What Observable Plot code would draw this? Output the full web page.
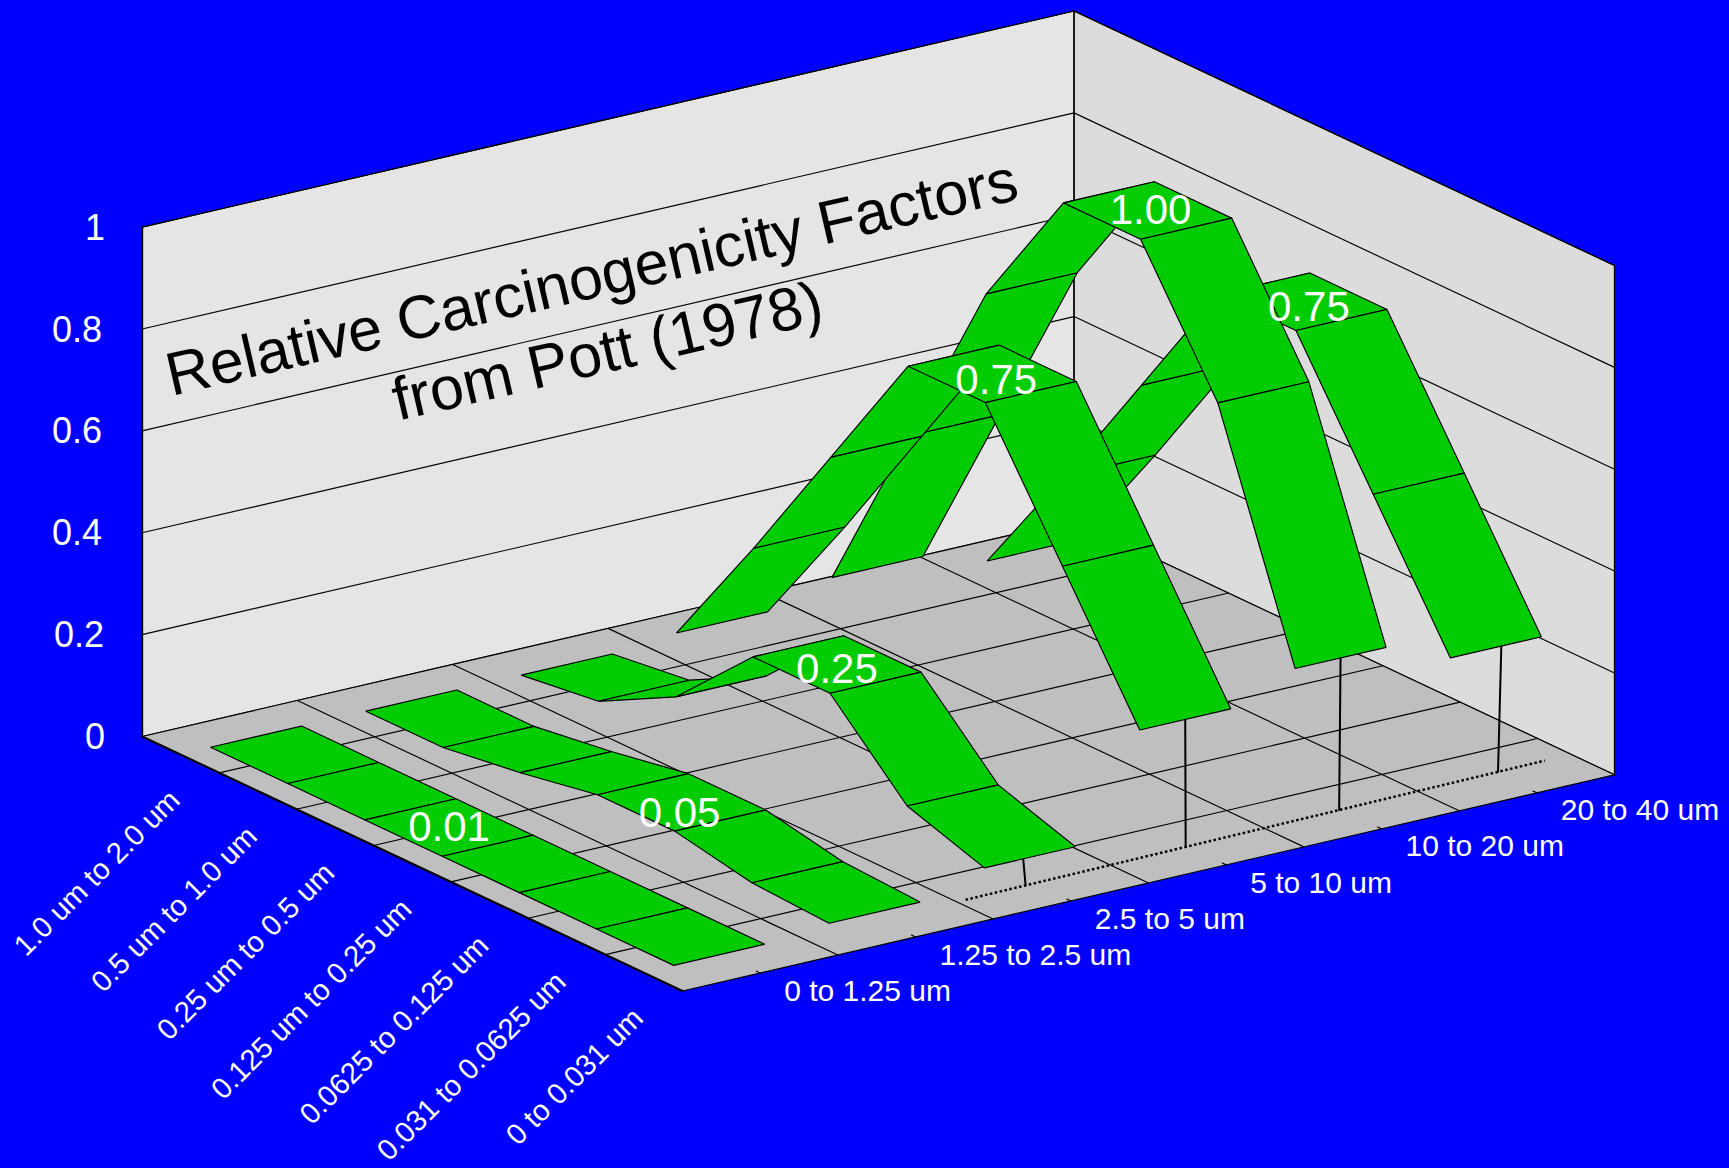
<!DOCTYPE html>
<html>
<head>
<meta charset="utf-8">
<title>Relative Carcinogenicity Factors from Pott (1978)</title>
<script src="https://cdn.jsdelivr.net/npm/d3@7"></script>
<script src="https://cdn.jsdelivr.net/npm/@observablehq/plot@0.6"></script>
<style>
  html, body { margin: 0; padding: 0; background: #0000ff; overflow: hidden; }
  svg { display: block; }
</style>
</head>
<body>
<script>
// Fibre length classes (along the front-right edge) and diameter classes (along the front-left edge).
const lengthClasses = ["0 to 1.25 um", "1.25 to 2.5 um", "2.5 to 5 um", "5 to 10 um", "10 to 20 um", "20 to 40 um"];
const diameterClasses = ["0 to 0.031 um", "0.031 to 0.0625 um", "0.0625 to 0.125 um", "0.125 um to 0.25 um", "0.25 um to 0.5 um", "0.5 um to 1.0 um", "1.0 um to 2.0 um"];

// Relative factors, one list per length class, ordered by diameter class.
const factorsLength0 = [0.01, 0.01, 0.01, 0.01, 0.01, 0.01, 0.01];
const factorsLength1 = [0.012, 0.02, 0.05, 0.05, 0.022, 0.01, 0.01];
const factorsLength2 = [0.05, 0.1, 0.25, 0.25, 0.1, 0.02, 0.01];
const factorsLength3 = [0.25, 0.5, 0.75, 0.75, 0.5, 0.25, 0.012];
const factorsLength4 = [0.3, 0.75, 1, 1, 0.75, 0.4, 0.05];
const factorsLength5 = [0.25, 0.5, 0.75, 0.75, 0.5, 0.25, 0.012];
const ribbons = [factorsLength0, factorsLength1, factorsLength2, factorsLength3, factorsLength4, factorsLength5];

const zTicks = [0, 0.2, 0.4, 0.6, 0.8, 1];
const wallLevels = [0.2, 0.4, 0.6, 0.8];

// Printed peak labels: length class, position along the diameter axis, and value.
const peakLabels = [
  {ribbon: 0, along: 3.5, value: 0.01, text: "0.01"},
  {ribbon: 1, along: 2.5, value: 0.05, text: "0.05"},
  {ribbon: 2, along: 2.5, value: 0.25, text: "0.25"},
  {ribbon: 3, along: 2.5, value: 0.75, text: "0.75"},
  {ribbon: 4, along: 2.5, value: 1, text: "1.00"},
  {ribbon: 5, along: 2.5, value: 0.75, text: "0.75"}
];

const titleLines = ["Relative Carcinogenicity Factors", "from Pott (1978)"];

const W = 1729, H = 1168;
const nA = lengthClasses.length, nB = diameterClasses.length;
const font = '"Liberation Sans", Arial, sans-serif';

// Oblique projection of the box: a runs along length classes, b along diameter classes, z upward.
const px = (a, b) => 682 + 155.33 * a - 77.2 * b;
const py = (a, b, z = 0) => 990.5 - 36.03 * a - 36.36 * b - 509.3 * z;
const pt = (a, b, z = 0) => ({x: px(a, b), y: py(a, b, z)});

// Factors of 0.01 or below rest on the floor of the box.
const lift = (v) => (v <= 0.01 ? 0 : v);

const centreA = (i) => i + 0.49;
const centreB = (j) => j + 0.51;
const halfWidth = 0.293;

// Rows for a closed polygon or polyline keyed by id.
const shape = (id, corners) => corners.map(([a, b, z]) => ({id, ...pt(a, b, z)}));

const walls = [
  ...shape("left", [[0, nB, 0], [nA, nB, 0], [nA, nB, 1], [0, nB, 1]]),
  ...shape("right", [[nA, nB, 0], [nA, 0, 0], [nA, 0, 1], [nA, nB, 1]]),
  ...shape("floor", [[0, 0, 0], [nA, 0, 0], [nA, nB, 0], [0, nB, 0]])
];
const wallFill = {left: "#e5e5e5", right: "#dcdcdc", floor: "#bfbfbf"};

// Level lines across both walls, plus the floor grid at class boundaries.
const gridRows = [
  ...wallLevels.concat([1]).flatMap((z) => shape(`z${z}`, [[0, nB, z], [nA, nB, z], [nA, 0, z]])),
  ...d3.range(1, nA).flatMap((a) => shape(`a${a}`, [[a, 0, 0], [a, nB, 0]])),
  ...d3.range(1, nB).flatMap((b) => shape(`b${b}`, [[0, b, 0], [nA, b, 0]])),
  ...shape("front-right", [[0, 0, 0], [nA, 0, 0]]),
  ...shape("back-left", [[0, nB, 0], [nA, nB, 0]]),
  ...shape("back-right", [[nA, nB, 0], [nA, 0, 0]]),
  ...shape("corner", [[nA, nB, 0], [nA, nB, 1]]),
  ...shape("right-edge", [[nA, 0, 0], [nA, 0, 1]]),
  ...lengthClasses.flatMap((_, i) => shape(`tick${i}`, [[i + 0.5, 0, 0], [i + 0.5, 0.05, 0]]))
];

// Reference line on the floor under the first diameter class, with a drop line per ribbon.
const dropB = (a) => 0.47 + (a - 2.056) * 0.0239;
const dropNudge = {2: -0.043, 5: 0.035};
const dottedRows = shape("dotted", [[2.056, dropB(2.056), 0], [5.83, dropB(5.83), 0]]);
const dropRows = d3.range(2, nA).flatMap((i) => {
  const a = centreA(i) + (dropNudge[i] ?? 0);
  return shape(`drop${i}`, [[a, dropB(a), 0], [a, centreB(0), lift(ribbons[i][0])]]);
});

// Ribbon panels, painted far to near: last length class first, and largest diameter first within it.
const panelRows = [];
for (let i = nA - 1; i >= 0; --i) {
  const values = ribbons[i];
  for (let j = values.length - 2; j >= 0; --j) {
    const a0 = centreA(i) - halfWidth, a1 = centreA(i) + halfWidth;
    const z0 = lift(values[j]), z1 = lift(values[j + 1]);
    panelRows.push(...shape(`${i}-${j}`, [
      [a0, centreB(j), z0], [a1, centreB(j), z0],
      [a1, centreB(j + 1), z1], [a0, centreB(j + 1), z1]
    ]));
  }
}

// Small offsets that seat each value label on its panel.
const labelNudgeX = [0, -2, 0, 4, 3, 6];
const labelNudgeY = [0, 11, 5, 7, 0, 6];
const labelRows = peakLabels.map((d) => {
  const p = pt(centreA(d.ribbon), centreB(d.along), lift(d.value));
  return {x: p.x + labelNudgeX[d.ribbon], y: p.y + labelNudgeY[d.ribbon], text: d.text};
});

const lengthLabels = lengthClasses.map((text, i) => ({...pt(i + 0.5, 0), text}));
const diameterLabels = diameterClasses.map((text, j) => ({...pt(0, centreB(j)), text}));
const zLabelInset = [37, 38, 40, 40, 40, 37];
const zLabels = zTicks.map((z, k) => {
  const p = pt(0, nB, z);
  return {x: p.x - zLabelInset[k], y: p.y + 1, text: String(z)};
});
const titleRows = [
  {...pt(2.895, nB, 0.6945), text: titleLines[0]},
  {...pt(2.997, nB, 0.5425), text: titleLines[1]}
];

const chart = Plot.plot({
  width: W,
  height: H,
  margin: 0,
  style: {background: "#0000ff", fontFamily: font},
  x: {domain: [0, W], range: [0, W], axis: null},
  y: {domain: [0, H], range: [0, H], axis: null},
  marks: [
    Plot.line(walls, {filter: (d) => d.id === "left", x: "x", y: "y", z: "id", curve: "linear-closed", fill: wallFill.left, stroke: "black", strokeWidth: 1.1}),
    Plot.line(walls, {filter: (d) => d.id === "right", x: "x", y: "y", z: "id", curve: "linear-closed", fill: wallFill.right, stroke: "black", strokeWidth: 1.1}),
    Plot.line(walls, {filter: (d) => d.id === "floor", x: "x", y: "y", z: "id", curve: "linear-closed", fill: wallFill.floor, stroke: "none"}),
    Plot.line(gridRows, {x: "x", y: "y", z: "id", stroke: "black", strokeWidth: 1.15}),
    Plot.line(shape("front-left", [[0, 0, 0], [0, nB, 0], [0, nB, 1]]), {x: "x", y: "y", stroke: "black", strokeWidth: 2.2, strokeLinejoin: "miter"}),
    Plot.line(dropRows, {x: "x", y: "y", z: "id", stroke: "black", strokeWidth: 2}),
    Plot.line(dottedRows, {x: "x", y: "y", stroke: "black", strokeWidth: 2.5, strokeDasharray: "2.5 2.5", strokeLinecap: "butt"}),
    Plot.line(panelRows, {x: "x", y: "y", z: "id", curve: "linear-closed", fill: "#00cc00", stroke: "black", strokeWidth: 1.15, strokeLinejoin: "miter"}),
    Plot.text(titleRows, {x: "x", y: "y", text: "text", rotate: -13.06, fontSize: 60.8, fontFamily: font, fill: "black", textAnchor: "middle", lineAnchor: "middle"}),
    Plot.text(labelRows, {x: "x", y: "y", text: "text", fontSize: 42, fontFamily: font, fill: "white", textAnchor: "middle", lineAnchor: "middle"}),
    Plot.text(zLabels, {x: "x", y: "y", text: "text", fontSize: 36, fontFamily: font, fill: "white", textAnchor: "end", lineAnchor: "middle"}),
    Plot.text(lengthLabels, {x: "x", y: "y", text: "text", dx: 24, dy: 18, fontSize: 30, fontFamily: font, fill: "white", textAnchor: "start", lineAnchor: "middle"}),
    Plot.text(diameterLabels, {x: "x", y: "y", text: "text", dx: -5, dy: 41, rotate: -45, fontSize: 29.3, fontFamily: font, fill: "white", textAnchor: "end", lineAnchor: "middle"})
  ]
});
document.body.appendChild(chart);
</script>
</body>
</html>
